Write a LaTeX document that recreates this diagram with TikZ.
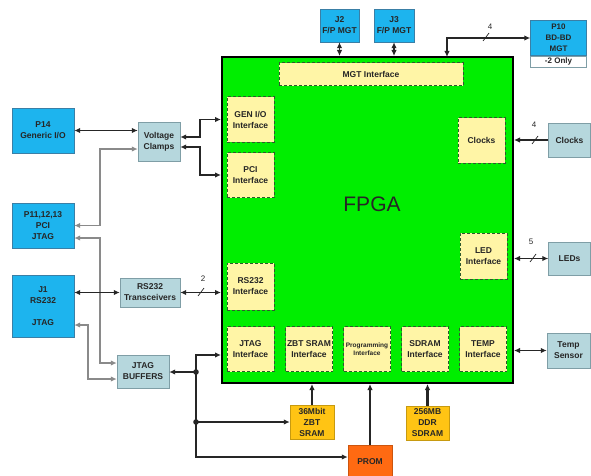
\documentclass[tikz,border=0pt]{standalone}
\usepackage{fontspec}
\setmainfont{Liberation Sans}
\usetikzlibrary{arrows.meta,positioning,calc}
\definecolor{PortBlue}{HTML}{1DB4EE}
\definecolor{PortEdge}{HTML}{3A7FA6}
\definecolor{ChipBlue}{HTML}{B6D7DD}
\definecolor{ChipEdge}{HTML}{7F9EA6}
\definecolor{FpgaGreen}{HTML}{00EE00}
\definecolor{IfYellow}{HTML}{FFF5A6}
\definecolor{IfEdge}{HTML}{2F5A2F}
\definecolor{MemGold}{HTML}{FFC414}
\definecolor{MemEdge}{HTML}{C79A10}
\definecolor{PromOrange}{HTML}{FF6A12}
\definecolor{WireGray}{HTML}{8A8A8A}
\definecolor{InkDark}{HTML}{262626}

\begin{document}
\begin{tikzpicture}[x=1pt, y=-1pt,
  font=\fontsize{8.5}{11}\selectfont\bfseries,
  port/.style={draw=PortEdge, fill=PortBlue, minimum width=62pt, inner sep=1pt, align=center, text=InkDark},
  chip/.style={draw=ChipEdge, fill=ChipBlue, inner sep=1pt, align=center, text=InkDark},
  iface/.style={draw=IfEdge, densely dashed, line width=1pt, fill=IfYellow, minimum width=47pt, minimum height=45pt, inner sep=1pt, align=center, text=InkDark},
  mem/.style={draw=MemEdge, fill=MemGold, minimum width=44pt, minimum height=34pt, inner sep=1pt, align=center, text=InkDark},
  arr/.style={-{Latex[length=6pt,width=5.5pt]}, line width=1.6pt, InkDark},
  darr/.style={{Latex[length=6pt,width=5.5pt]}-{Latex[length=6pt,width=5.5pt]}, line width=1.6pt, InkDark},
  garr/.style={darr, WireGray, line width=1.3pt},
  slash/.style={line width=0.7pt, InkDark}
]
\useasboundingbox (0,0) rectangle (591,476);

% the FPGA and its interfaces
\node[draw=black, line width=2pt, fill=FpgaGreen, minimum width=291pt, minimum height=326pt] (fpga) at (367.5,220) {};
\node[font=\fontsize{21}{24}\selectfont, text=InkDark] (fpgalbl) at (372,204.5) {FPGA};
\node[iface, minimum width=184pt, minimum height=23pt] (mgtif) at (371,74.5) {MGT Interface};
\node[iface] (genif) at (250.5,119.5) {GEN I/O\\Interface};
\node[iface] (pciif) at (250.5,175) {PCI\\Interface};
\node[iface, minimum height=47pt] (rsif) at (250.5,286.5) {RS232\\Interface};
\node[iface] (jtagif) at (250.5,349) {JTAG\\Interface};
\node[iface] (zbtif) at (309,349) {ZBT SRAM\\Interface};
\node[iface, font=\fontsize{6.5}{8}\selectfont\bfseries] (progif) at (367,349) {Programming\\Interface};
\node[iface] (sdrif) at (425,349) {SDRAM\\Interface};
\node[iface] (tempif) at (483,349) {TEMP\\Interface};
\node[iface] (clkif) at (481.5,140.5) {Clocks};
\node[iface, minimum height=46pt] (ledif) at (483.5,256) {LED\\Interface};

% connectors and ports
\node[port, minimum width=39pt, minimum height=33pt] (j2) at (339.5,25.5) {J2\\F/P MGT};
\node[port, minimum width=40pt, minimum height=33pt] (j3) at (394,25.5) {J3\\F/P MGT};
\node[port, minimum width=56pt, minimum height=35pt, inner sep=0pt, font=\fontsize{8}{11}\selectfont\bfseries] (p10) at (558.5,38) {P10\\BD-BD\\MGT};
\node[draw=ChipEdge, fill=white, minimum width=56pt, minimum height=11pt, inner sep=0.5pt, text=InkDark, font=\fontsize{8}{9}\selectfont\bfseries, below=0pt of p10] (p10note) {-2 Only};
\node[port, minimum height=45pt] (p14) at (43,130.5) {P14\\Generic I/O};
\node[port, minimum height=45pt] (p11) at (43,225.5) {P11,12,13\\PCI\\JTAG};
\node[port, minimum height=62pt] (j1) at (43,306) {J1\\RS232\\[11pt]JTAG};

% board parts
\node[chip, minimum width=42pt, minimum height=39pt] (clamps) at (159,141.5) {Voltage\\Clamps};
\node[chip, minimum width=60pt, minimum height=29pt] (xcvr) at (150,292.5) {RS232\\Transceivers};
\node[chip, minimum width=52pt, minimum height=33pt] (bufs) at (143,371.5) {JTAG\\BUFFERS};
\node[chip, minimum width=42pt, minimum height=34pt] (clocks) at (569.5,140) {Clocks};
\node[chip, minimum width=42pt, minimum height=33pt] (leds) at (569.5,258.5) {LEDs};
\node[chip, minimum width=43pt, minimum height=35pt] (tsense) at (568.5,350.5) {Temp\\Sensor};
\node[mem] (zbt) at (312,422) {36Mbit\\ZBT\\SRAM};
\node[mem, minimum width=43pt] (ddr) at (427.5,423) {256MB\\DDR\\SDRAM};
\node[draw=PromOrange!80!black, fill=PromOrange, minimum width=44pt, minimum height=34pt, text=InkDark] (prom) at (370,462) {PROM};

% top links
\draw[darr] (j2.south) -- (j2.south |- fpga.north);
\draw[darr] (j3.south) -- (j3.south |- fpga.north);
\coordinate (mgttap) at (447,57);
\draw[darr] (mgttap) |- (p10.west);

% left links
\draw[darr] (p14.east) -- (p14.east -| clamps.west);
\draw[garr] ($(clamps.west)+(0,7.5)$) -- (100,149) |- (p11.east);
\draw[darr] ($(clamps.east)+(0,-4.5)$) -- (200,137) |- (fpga.west |- genif);
\draw[darr] ($(clamps.east)+(0,5.5)$) -- (200,147) |- (fpga.west |- pciif);
\draw[garr] ($(p11.east)+(0,12.5)$) -- (100,238) |- ($(bufs.west)+(0,-8.5)$);
\draw[darr] (j1.east |- xcvr) -- (xcvr.west);
\draw[darr] (xcvr.east) -- (xcvr.east -| fpga.west);
\draw[garr] ($(j1.east)+(0,19)$) -- (88,325) |- ($(bufs.west)+(0,7.5)$);

% jtag chain
\coordinate (jd1) at (196,372);
\coordinate (jd2) at (196,422);
\draw[arr] (jd1) -- (jd1 -| bufs.east);
\draw[arr] (jd1) |- ($(fpga.west |- jtagif)+(0,6)$);
\draw[arr] (jd2) -- (zbt.west);
\draw[arr] (jd1) |- ($(prom.west)+(0,-5)$);
\fill[InkDark] (jd1) circle (2.8pt) (jd2) circle (2.8pt);

% bottom links
\draw[arr] (zbt.north) -- (zbt.north |- fpga.south);
\draw[arr] (prom.north) -- (prom.north |- fpga.south);
\draw[arr, line width=2.4pt] (ddr.north) -- (ddr.north |- fpga.south);

% right links
\draw[arr] (clocks.west) -- (clocks.west -| fpga.east);
\draw[darr] (leds.west -| fpga.east) -- (leds.west);
\draw[darr] (tsense.west -| fpga.east) -- (tsense.west);

% bus widths
\foreach \sx/\sy/\lx/\ly/\bw [count=\i] in {486/37/490/27/4, 201/292/203/279/2, 535/140/534/125/4, 533/258/531/242/5} {
  \draw[slash] (\sx-3,\sy+4) -- (\sx+3,\sy-4);
  \node[font=\fontsize{8}{9}\selectfont, inner sep=0pt, text=InkDark] (bw\i) at (\lx,\ly) {\bw};
}
\end{tikzpicture}
\end{document}
